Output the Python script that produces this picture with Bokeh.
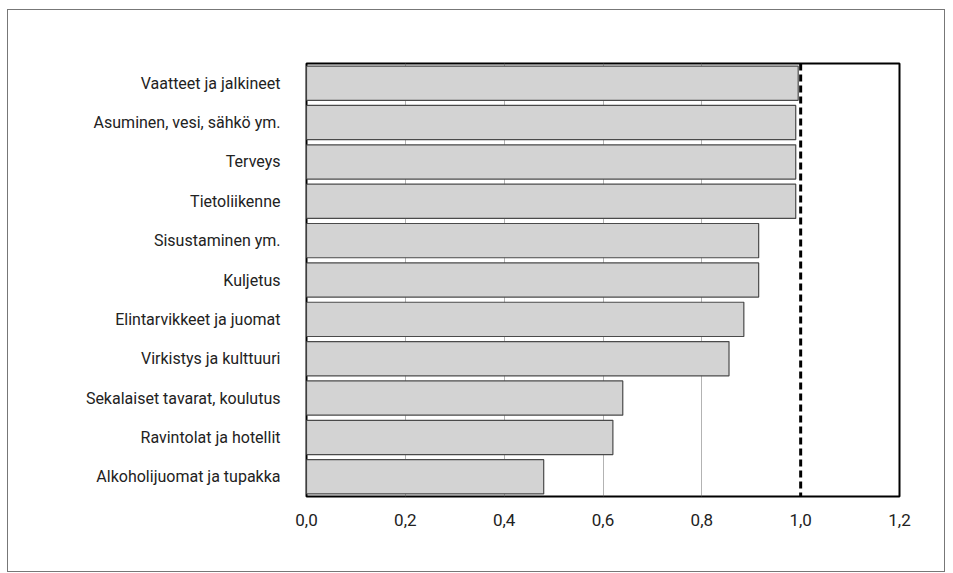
from bokeh.plotting import figure
from bokeh.models import FactorRange, Range1d, FixedTicker, Span
from bokeh.embed import file_html
from bokeh.resources import INLINE

categories = [
    "Vaatteet ja jalkineet",
    "Asuminen, vesi, sähkö ym.",
    "Terveys",
    "Tietoliikenne",
    "Sisustaminen ym.",
    "Kuljetus",
    "Elintarvikkeet ja juomat",
    "Virkistys ja kulttuuri",
    "Sekalaiset tavarat, koulutus",
    "Ravintolat ja hotellit",
    "Alkoholijuomat ja tupakka",
]
values = [0.995, 0.99, 0.99, 0.99, 0.915, 0.915, 0.885, 0.855, 0.64, 0.62, 0.48]
ticks = [0.0, 0.2, 0.4, 0.6, 0.8, 1.0, 1.2]
tick_labels = ["0,0", "0,2", "0,4", "0,6", "0,8", "1,0", "1,2"]
reference_value = 1.0

FONT = "'Liberation Sans Narrow', 'Arial Narrow', 'Roboto', sans-serif"

p = figure(
    width=938, height=563,
    y_range=FactorRange(factors=list(reversed(categories)), range_padding=0),
    x_range=Range1d(0, 1.2),
    output_backend="svg", toolbar_location=None,
    min_border_left=298, min_border_right=47, min_border_top=53, min_border_bottom=77,
)
p.styles = {"border": "1px solid #777", "margin": "9px 0 0 7px"}

p.hbar(y=categories, right=values, left=0, height=0.87,
       fill_color="#d3d3d3", line_color="#4a4a4a", line_width=1.2)

p.add_layout(Span(location=reference_value, dimension="height",
                  line_color="black", line_width=3, line_dash="7 4"))

p.outline_line_color = "black"
p.outline_line_width = 2

p.xaxis.ticker = FixedTicker(ticks=ticks)
p.xaxis.major_label_overrides = {t: l for t, l in zip(ticks, tick_labels)}
p.xaxis.axis_line_color = None
p.xaxis.major_tick_line_color = None
p.xaxis.minor_tick_line_color = None
p.xaxis.major_label_standoff = 11
p.xaxis.major_label_text_font = FONT
p.xaxis.major_label_text_font_size = "17px"
p.xaxis.major_label_text_color = "#222"

p.yaxis.axis_line_color = None
p.yaxis.major_tick_line_color = None
p.yaxis.minor_tick_line_color = None
p.yaxis.major_label_standoff = 20
p.yaxis.major_label_text_font = FONT
p.yaxis.major_label_text_font_size = "16px"
p.yaxis.major_label_text_color = "#222"

p.ygrid.grid_line_color = None
p.xgrid.ticker = FixedTicker(ticks=[0.2, 0.4, 0.6, 0.8])
p.xgrid.grid_line_color = "#666"
p.xgrid.grid_line_width = 1
p.xgrid.grid_line_dash = "1 1"

open("out.html", "w").write(file_html(p, INLINE))
